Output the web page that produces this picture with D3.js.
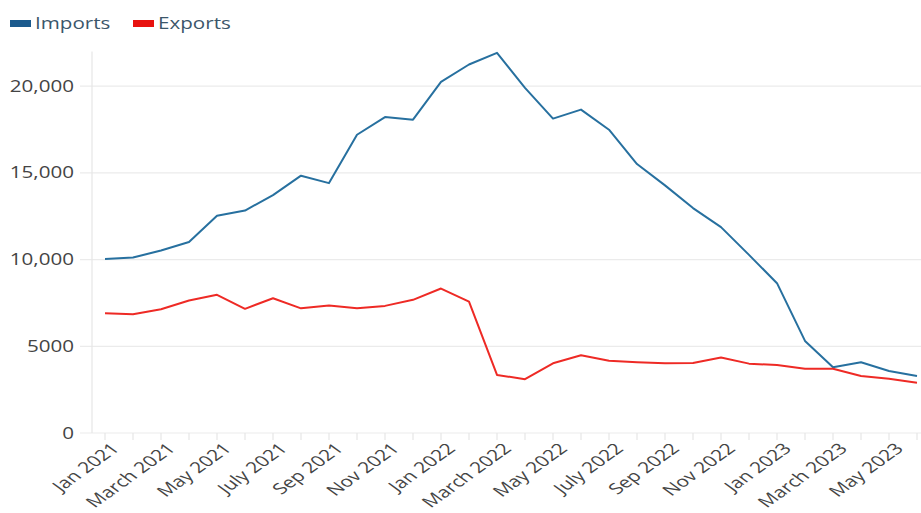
<!DOCTYPE html>
<html>
  <head>
    <script src="https://cdnjs.cloudflare.com/ajax/libs/d3/7.8.5/d3.min.js"></script>
    <style>
      body { margin: 0; background: #fff; }
      text { font-family: "Open Sans", sans-serif; }
    </style>
  </head>
  <body>
    <div id="vis"></div>
    <script type="text/javascript">

        const months = ["Jan 2021", "Feb 2021", "March 2021", "Apr 2021", "May 2021", "June 2021",
            "July 2021", "Aug 2021", "Sep 2021", "Oct 2021", "Nov 2021", "Dec 2021",
            "Jan 2022", "Feb 2022", "March 2022", "Apr 2022", "May 2022", "June 2022",
            "July 2022", "Aug 2022", "Sep 2022", "Oct 2022", "Nov 2022", "Dec 2022",
            "Jan 2023", "Feb 2023", "March 2023", "Apr 2023", "May 2023", "June 2023"];

        const imports = [10030, 10120, 10520, 11010, 12530, 12830, 13720, 14840, 14410, 17200,
            18220, 18070, 20250, 21250, 21920, 19900, 18130, 18650, 17490, 15510,
            14280, 12970, 11870, 10270, 8640, 5310, 3790, 4080, 3580, 3290];

        const exports = [6910, 6850, 7140, 7640, 7970, 7160, 7770, 7190, 7350, 7190,
            7330, 7680, 8330, 7580, 3350, 3100, 4020, 4480, 4170, 4080,
            4020, 4040, 4350, 4000, 3920, 3700, 3700, 3290, 3130, 2900];

        const yTicks = [0, 5000, 10000, 15000, 20000];
        const yTickLabels = ["0", "5000", "10,000", "15,000", "20,000"];

        const series = [
            {name: "Imports", values: imports, line: "#27709f", key: "#1b5a8d"},
            {name: "Exports", values: exports, line: "#ee2a25", key: "#e8120f"}
        ];

        const width = 921, height = 513;
        const stretch = 1.33;   // the source picture is widened, text included

        const svg = d3.select("#vis")
            .append("svg")
            .attr("width", width)
            .attr("height", height);

        const x = d3.scalePoint().domain(months).range([105, 917]);
        const y = d3.scaleLinear().domain([0, 22000]).range([433, 51.5]);

        // gridlines
        svg.append("g")
            .selectAll("line")
            .data(yTicks)
            .enter()
            .append("line")
            .attr("x1", 80).attr("x2", width)
            .attr("y1", d => y(d)).attr("y2", d => y(d))
            .attr("stroke", "#ebebeb")
            .attr("stroke-width", 1.2);

        svg.append("line")
            .attr("x1", 92).attr("x2", 92)
            .attr("y1", y(22000)).attr("y2", y(0))
            .attr("stroke", "#e6e6e6")
            .attr("stroke-width", 1.2);

        svg.append("g")
            .selectAll("text")
            .data(yTicks)
            .enter()
            .append("text")
            .attr("transform", d => `translate(74,${y(d)}) scale(${stretch},1)`)
            .attr("text-anchor", "end")
            .attr("dy", "0.36em")
            .attr("font-size", 15.5)
            .attr("fill", "#444")
            .text((d, i) => yTickLabels[i]);

        // month ticks
        svg.append("g")
            .selectAll("line")
            .data(months)
            .enter()
            .append("line")
            .attr("x1", d => x(d)).attr("x2", d => x(d))
            .attr("y1", y(0)).attr("y2", y(0) + 7)
            .attr("stroke", "#e6e6e6")
            .attr("stroke-width", 1.2);

        svg.append("g")
            .selectAll("text")
            .data(months.filter((d, i) => i % 2 === 0))
            .enter()
            .append("text")
            .attr("transform", d => `translate(${x(d) + 5},${y(0) + 9}) scale(1.38,1) rotate(-45)`)
            .attr("text-anchor", "end")
            .attr("dy", "0.7em")
            .attr("font-size", 15.2)
            .attr("fill", "#444")
            .text(d => d);

        const line = d3.line()
            .x((d, i) => x(months[i]))
            .y(d => y(d));

        svg.append("g")
            .selectAll("path")
            .data(series)
            .enter()
            .append("path")
            .attr("d", d => line(d.values))
            .attr("fill", "none")
            .attr("stroke", d => d.line)
            .attr("stroke-width", 2)
            .attr("stroke-linejoin", "round");

        // legend
        const legend = svg.append("g")
            .selectAll("g")
            .data(series)
            .enter()
            .append("g")
            .attr("transform", (d, i) => `translate(${10 + i * 123},0)`);

        legend.append("rect")
            .attr("x", 0).attr("y", 20)
            .attr("width", 21).attr("height", 7)
            .attr("fill", d => d.key);

        legend.append("text")
            .attr("transform", `translate(25,29) scale(${stretch},1)`)
            .attr("font-size", 15.5)
            .attr("fill", "#3b566a")
            .text(d => d.name);

    </script>
  </body>
</html>
